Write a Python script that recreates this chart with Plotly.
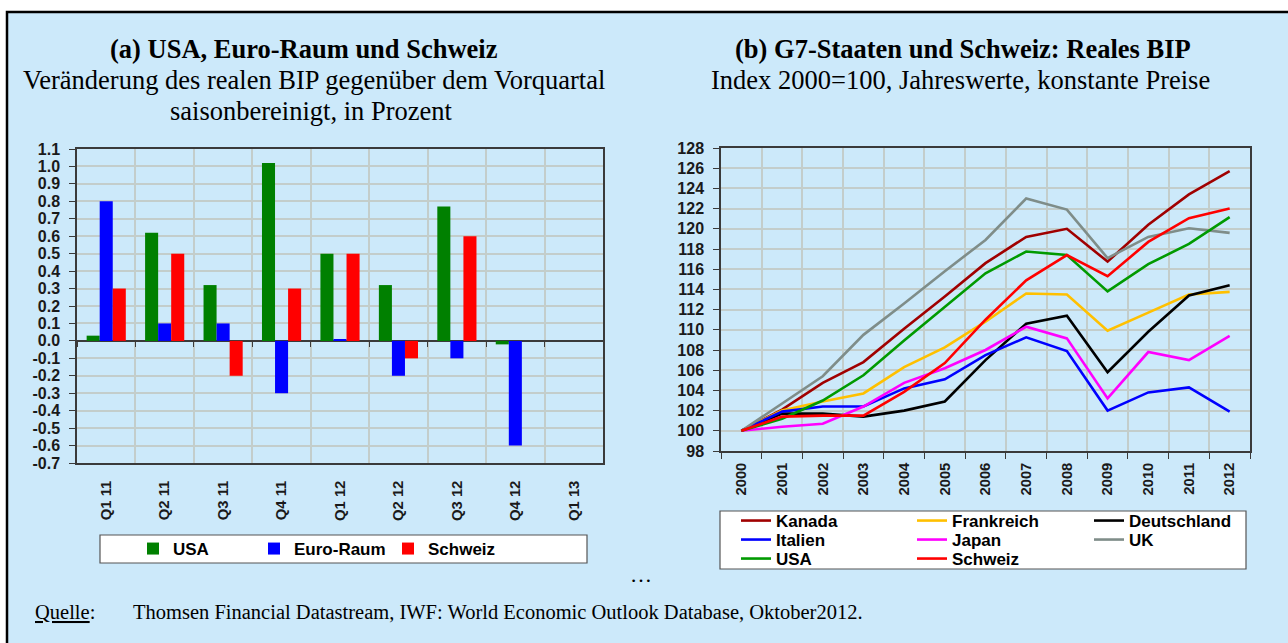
import plotly.graph_objects as go

# ---------------- data ----------------
quarters = ["Q1 11", "Q2 11", "Q3 11", "Q4 11", "Q1 12", "Q2 12", "Q3 12", "Q4 12", "Q1 13"]
usa_q = [0.03, 0.62, 0.32, 1.02, 0.50, 0.32, 0.77, -0.02, None]
euro_q = [0.80, 0.10, 0.10, -0.30, 0.01, -0.20, -0.10, -0.60, None]
schweiz_q = [0.30, 0.50, -0.20, 0.30, 0.50, -0.10, 0.60, None, None]
q_tickvals = [-0.7, -0.6, -0.5, -0.4, -0.3, -0.2, -0.1, 0.0, 0.1, 0.2, 0.3,
              0.4, 0.5, 0.6, 0.7, 0.8, 0.9, 1.0, 1.1]
q_ticktext = ["-0.7", "-0.6", "-0.5", "-0.4", "-0.3", "-0.2", "-0.1", "0.0", "0.1", "0.2", "0.3",
              "0.4", "0.5", "0.6", "0.7", "0.8", "0.9", "1.0", "1.1"]

years = ["2000", "2001", "2002", "2003", "2004", "2005", "2006", "2007",
         "2008", "2009", "2010", "2011", "2012"]
kanada = [100, 102.1, 104.75, 106.8, 110.1, 113.3, 116.6, 119.2, 120.0, 116.75, 120.4, 123.4, 125.7]
frankreich = [100, 102.0, 102.9, 103.7, 106.3, 108.25, 110.8, 113.6, 113.5, 109.9, 111.7, 113.5, 113.75]
deutschland = [100, 101.7, 101.7, 101.4, 102.0, 102.9, 107.0, 110.6, 111.4, 105.8, 109.8, 113.4, 114.4]
italien = [100, 101.9, 102.4, 102.4, 104.2, 105.1, 107.5, 109.25, 107.9, 102.0, 103.8, 104.3, 101.9]
japan = [100, 100.4, 100.7, 102.4, 104.75, 106.2, 108.0, 110.3, 109.15, 103.2, 107.8, 107.0, 109.4]
uk = [100, 102.7, 105.4, 109.5, 112.6, 115.8, 118.9, 123.0, 121.9, 117.1, 119.2, 120.05, 119.6]
usa_y = [100, 101.2, 103.0, 105.5, 108.95, 112.25, 115.6, 117.75, 117.4, 113.8, 116.5, 118.5, 121.15]
schweiz_y = [100, 101.4, 101.5, 101.5, 103.85, 106.7, 111.0, 114.9, 117.4, 115.3, 118.7, 121.05, 122.0]

# ---------------- layout helpers ----------------
W, H = 1288, 643
def fx(p):
    return p / W
def fy(p):
    return 1 - p / H

SANS = "Arial, Liberation Sans, sans-serif"
SERIF = "Times New Roman, Liberation Serif, serif"
BG = "#CCE9FA"
GRID = "#C3CDCB"
AXIS = "#3a3a3a"
TXT = "#1a1a1a"

a_dom_x = [fx(77), fx(603)]
a_dom_y = [fy(463), fy(149)]
b_dom_x = [fx(721), fx(1250)]
b_dom_y = [fy(451), fy(148)]
a_range = [-0.7, 1.1]
zero_pos = a_dom_y[0] + (0 - a_range[0]) / (a_range[1] - a_range[0]) * (a_dom_y[1] - a_dom_y[0])

fig = go.Figure()

# bar series: (name, values, colour, legend id, legend item left px, legend row centre px)
bar_specs = [("USA", usa_q, "#008000", "legend", 133, 549),
             ("Euro-Raum", euro_q, "#0000FF", "legend2", 254, 549),
             ("Schweiz", schweiz_q, "#FF0000", "legend3", 388, 549)]
for name, vals, col, lg, _, _ in bar_specs:
    fig.add_trace(go.Bar(x=quarters, y=vals, name=name, marker=dict(color=col, line=dict(width=0)),
                         xaxis="x", yaxis="y", legend=lg))

# invisible helper trace so the zero-line tick axis is drawn
fig.add_trace(go.Scatter(x=quarters, y=usa_q, mode="none", xaxis="x3", yaxis="y",
                         showlegend=False, hoverinfo="skip"))

line_specs = [("Kanada", kanada, "#A00000", "legend4", 736, 521),
              ("Frankreich", frankreich, "#FFC000", "legend5", 912, 521),
              ("Deutschland", deutschland, "#000000", "legend6", 1089, 521),
              ("Italien", italien, "#0000FF", "legend7", 736, 540),
              ("Japan", japan, "#FF00FF", "legend8", 912, 540),
              ("UK", uk, "#7F8D89", "legend9", 1089, 540),
              ("USA", usa_y, "#009A00", "legend10", 736, 559),
              ("Schweiz", schweiz_y, "#FF0000", "legend11", 912, 559)]
for name, vals, col, lg, _, _ in line_specs:
    fig.add_trace(go.Scatter(x=years, y=vals, name=name, mode="lines",
                             line=dict(color=col, width=2.6), xaxis="x2", yaxis="y2",
                             legend=lg))

ytickfont = dict(family=SANS, size=16, color=TXT, weight="bold")
xtickfont = dict(family=SANS, size=14.8, color=TXT, weight="bold")
legfont_a = dict(family=SANS, size=17, color="#000000", weight="bold")
legfont_b = dict(family=SANS, size=17, color="#000000", weight="bold")

layout_legends = {}
for spec in bar_specs + line_specs:
    lg, lx, ly = spec[3], spec[4], spec[5]
    layout_legends[lg] = dict(orientation="v", x=fx(lx), xanchor="left", y=fy(ly), yanchor="middle",
                              bgcolor="rgba(0,0,0,0)", borderwidth=0,
                              font=legfont_a if spec in bar_specs else legfont_b)

fig.update_layout(
    width=W, height=H, margin=dict(l=0, r=0, t=0, b=0, autoexpand=False),
    paper_bgcolor="white", plot_bgcolor="white",
    barmode="group", bargap=0.33, bargroupgap=0,
    xaxis=dict(domain=a_dom_x, anchor="y", type="category", categoryorder="array",
               categoryarray=quarters, range=[-0.5, 8.5], tickson="boundaries",
               showgrid=True, gridcolor=GRID, gridwidth=1.5, ticks="", tickangle=-90,
               tickfont=xtickfont, ticklabelstandoff=10, automargin=False,
               showline=True, linecolor=AXIS, linewidth=1.5, mirror=True, zeroline=False),
    xaxis3=dict(overlaying="x", anchor="free", position=zero_pos, type="category",
                categoryorder="array", categoryarray=quarters, range=[-0.5, 8.5],
                tickson="boundaries", ticks="outside", ticklen=5, tickwidth=1.2, tickcolor=AXIS,
                showticklabels=False, showgrid=False, showline=False, zeroline=False,
                automargin=False),
    yaxis=dict(domain=a_dom_y, anchor="x", range=a_range, tickvals=q_tickvals, ticktext=q_ticktext,
               showgrid=True, gridcolor=GRID, gridwidth=1.5, ticks="outside", ticklen=6,
               tickcolor=AXIS, tickfont=ytickfont, ticklabelstandoff=6, automargin=False,
               showline=True, linecolor=AXIS, linewidth=1.5,
               mirror=True, zeroline=True, zerolinecolor=AXIS, zerolinewidth=1.5),
    xaxis2=dict(domain=b_dom_x, anchor="y2", type="category", categoryorder="array",
                categoryarray=years, range=[-0.5, 12.5], tickson="boundaries",
                showgrid=True, gridcolor=GRID, gridwidth=1.5, ticks="outside", ticklen=6,
                tickcolor=AXIS, tickangle=-90, tickfont=xtickfont, ticklabelstandoff=4,
                automargin=False,
                showline=True, linecolor=AXIS, linewidth=1.5, mirror=True, zeroline=False),
    yaxis2=dict(domain=b_dom_y, anchor="x2", range=[98, 128], dtick=2, tick0=98,
                showgrid=True, gridcolor=GRID, gridwidth=1.5, ticks="outside", ticklen=6,
                tickcolor=AXIS, tickfont=ytickfont, ticklabelstandoff=6, automargin=False,
                showline=True, linecolor=AXIS, linewidth=1.5,
                mirror=True, zeroline=False),
    showlegend=True,
    **layout_legends,
)

shapes = [
    dict(type="rect", xref="paper", yref="paper", x0=fx(7), x1=fx(1300), y0=fy(655), y1=fy(12),
         fillcolor=BG, line=dict(color="black", width=2.5), layer="below"),
    dict(type="rect", xref="paper", yref="paper", x0=fx(100), x1=fx(587), y0=fy(563), y1=fy(535),
         fillcolor="white", line=dict(color="#555555", width=1.2), layer="below"),
    dict(type="rect", xref="paper", yref="paper", x0=fx(720), x1=fx(1246), y0=fy(569), y1=fy(511),
         fillcolor="white", line=dict(color="#555555", width=1.2), layer="below"),
]
fig.update_layout(shapes=shapes)

def ann(text, x, y, size, family=SERIF, xanchor="center"):
    return dict(text=text, x=fx(x), y=fy(y), xref="paper", yref="paper", showarrow=False,
                xanchor=xanchor, yanchor="middle", font=dict(family=family, size=size, color="#000000"))

annotations = [
    ann("<b>(a) USA, Euro-Raum und Schweiz</b>", 304, 49, 26.5),
    ann("Veränderung des realen BIP gegenüber dem Vorquartal", 314, 80, 26.5),
    ann("saisonbereinigt, in Prozent", 311, 111, 26.5),
    ann("<b>(b) G7-Staaten und Schweiz: Reales BIP</b>", 963, 49, 26.5),
    ann("Index 2000=100, Jahreswerte, konstante Preise", 961, 80, 26.5),
    ann("…", 641, 574, 22),
    ann("<u>Quelle</u>:", 33, 612, 20.5, xanchor="left"),
    ann("Thomsen Financial Datastream, IWF: World Economic Outlook Database, Oktober2012.",
        131, 612, 20.5, xanchor="left"),
]
fig.update_layout(annotations=annotations)

fig.write_html("out.html", config={"displayModeBar": False},
               post_script="document.body.style.margin='0';")
